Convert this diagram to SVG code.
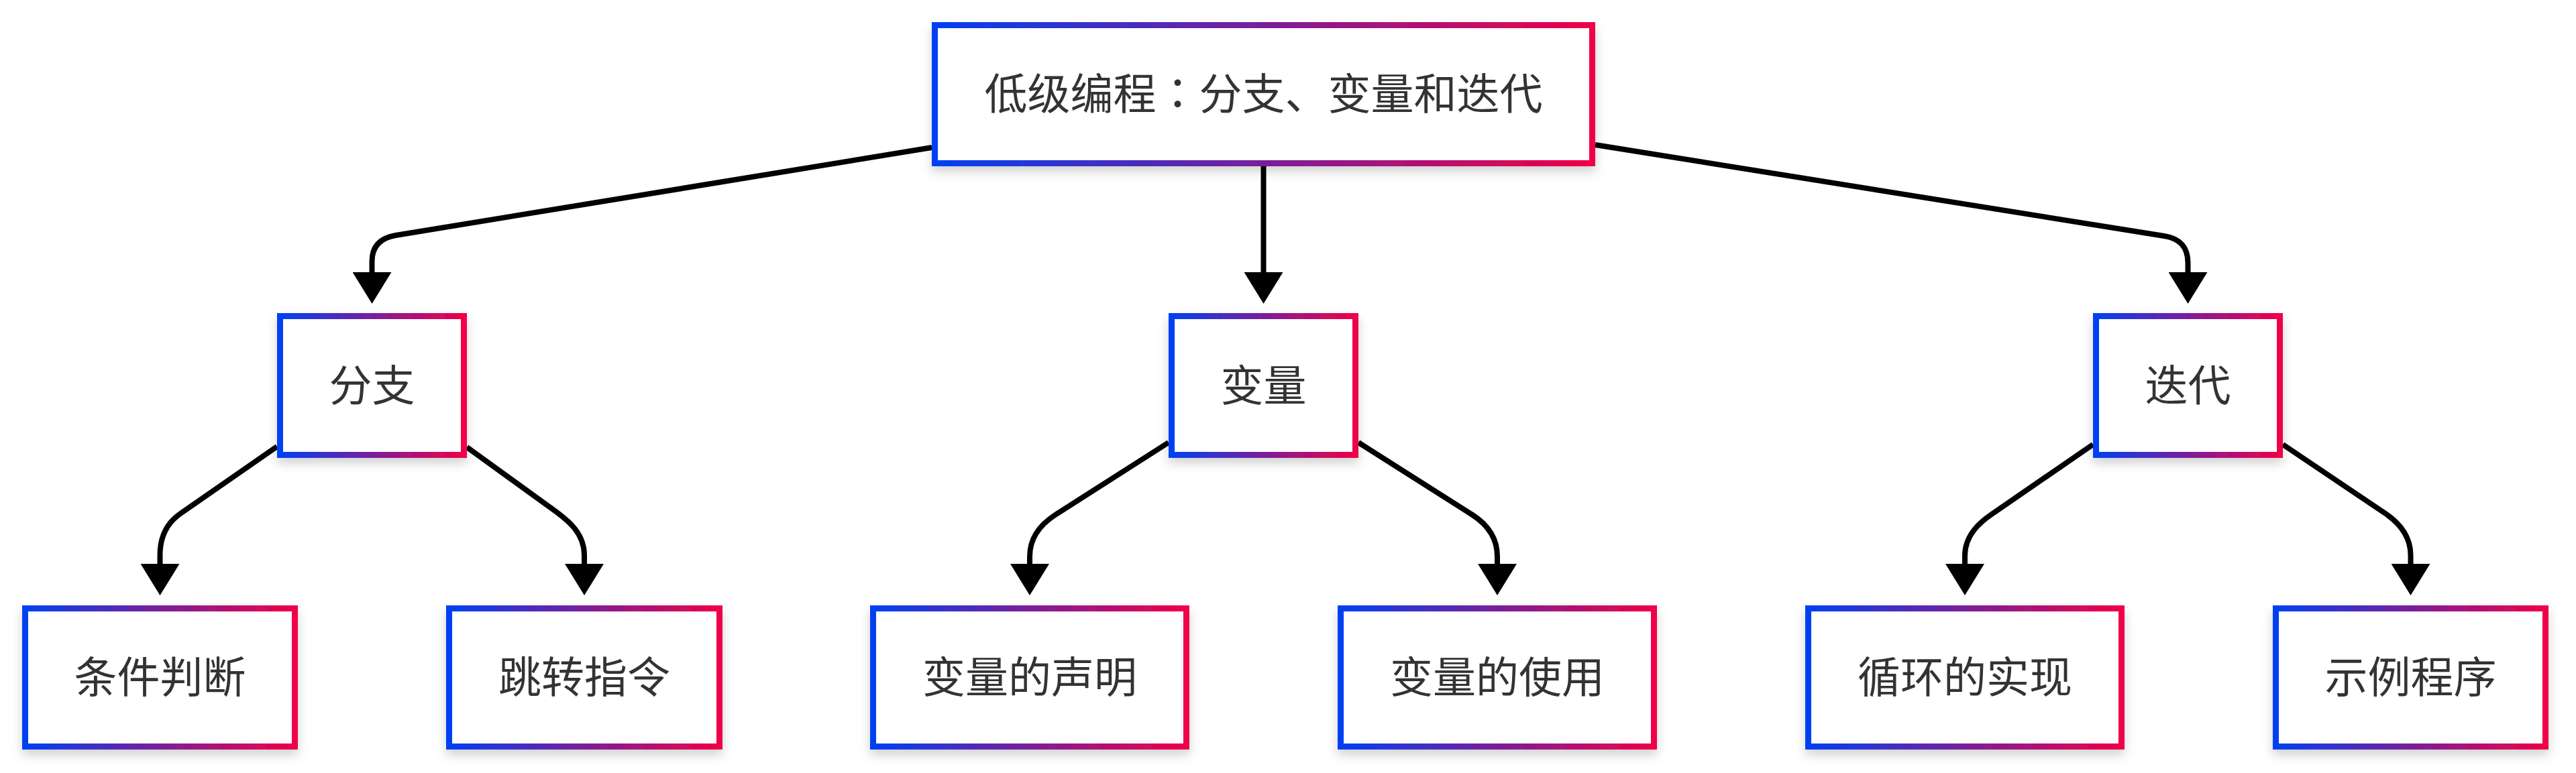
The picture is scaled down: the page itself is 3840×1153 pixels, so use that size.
<svg xmlns="http://www.w3.org/2000/svg" width="3840" height="1153" viewBox="0 0 3840 1153">
<style>
.box{fill:#ffffff;stroke:url(#grad);stroke-width:9;filter:url(#shadow);}
.lbl{font-family:"Noto Sans CJK SC","Noto Sans",sans-serif;font-size:64px;fill:#333333;text-anchor:middle;}
.jp{font-family:"Noto Sans CJK JP","Noto Sans CJK SC",sans-serif;}
.edge{fill:none;stroke:#000000;stroke-width:8;marker-end:url(#arrow);}
</style>
<defs>
<linearGradient id="grad" x1="0" y1="0" x2="1" y2="0">
<stop offset="0" stop-color="#0040F2"/>
<stop offset="0.5" stop-color="#7A1F9A"/>
<stop offset="1" stop-color="#F00048"/>
</linearGradient>
<filter id="shadow" x="-10%" y="-10%" width="120%" height="130%">
<feDropShadow dx="0" dy="8" stdDeviation="8" flood-color="#000000" flood-opacity="0.18"/>
</filter>
<marker id="arrow" markerUnits="userSpaceOnUse" viewBox="0 -29 47 58" refX="0" refY="0" markerWidth="47" markerHeight="58" orient="auto">
<path d="M0,-29 L47,0 L0,29 Z" fill="#000000"/>
</marker>
</defs>
<g id="connectors">
<path class="edge" d="M1389,220 L590,351 C568,354.6 554.5,366 554.5,390 L554.5,406"/>
<path class="edge" d="M1883.5,248 L1883.5,406"/>
<path class="edge" d="M2378,216 L3226,352 C3248,355.5 3261.5,367 3261.5,392 L3261.5,406"/>
<path class="edge" d="M413,666 L269,766 C252.6,777.4 238.5,796 238.5,828 L238.5,841"/>
<path class="edge" d="M696,667 L830,764 C846,776 871,795 871,828 L871,841"/>
<path class="edge" d="M1742,660 L1573,768 C1556,779 1535,798 1535,830 L1535,841"/>
<path class="edge" d="M2025,660 L2195,768 C2212,779 2232,798 2232,830 L2232,841"/>
<path class="edge" d="M3120,663 L2969,767 C2953,778 2929,797 2929,829 L2929,841"/>
<path class="edge" d="M3403,663 L3553,764 C3570,775 3593.5,795 3593.5,828 L3593.5,841"/>
</g>
<g id="root">
<rect class="box" x="1393.5" y="37.5" width="980" height="206"/>
<text class="lbl" x="1883.5" y="163">低级编程<tspan class="jp">：</tspan>分支、变量和迭代</text>
</g>
<g id="branch">
<rect class="box" x="417.5" y="471.5" width="274" height="207"/>
<text class="lbl" x="554.5" y="598">分支</text>
</g>
<g id="variable">
<rect class="box" x="1746.5" y="471.5" width="274" height="207"/>
<text class="lbl" x="1883.5" y="598">变量</text>
</g>
<g id="iteration">
<rect class="box" x="3124.5" y="471.5" width="274" height="207"/>
<text class="lbl" x="3261.5" y="598">迭代</text>
</g>
<g id="condition">
<rect class="box" x="37.5" y="907.5" width="402" height="206"/>
<text class="lbl" x="238.5" y="1033">条件判断</text>
</g>
<g id="jump">
<rect class="box" x="669.5" y="907.5" width="403" height="206"/>
<text class="lbl" x="871" y="1033">跳转指令</text>
</g>
<g id="declare">
<rect class="box" x="1301.5" y="907.5" width="467" height="206"/>
<text class="lbl" x="1535" y="1033">变量的声明</text>
</g>
<g id="use">
<rect class="box" x="1998.5" y="907.5" width="467" height="206"/>
<text class="lbl" x="2232" y="1033">变量的使用</text>
</g>
<g id="loop">
<rect class="box" x="2695.5" y="907.5" width="467" height="206"/>
<text class="lbl" x="2929" y="1033">循环的实现</text>
</g>
<g id="example">
<rect class="box" x="3392.5" y="907.5" width="402" height="206"/>
<text class="lbl" x="3593.5" y="1033">示例程序</text>
</g>
</svg>
